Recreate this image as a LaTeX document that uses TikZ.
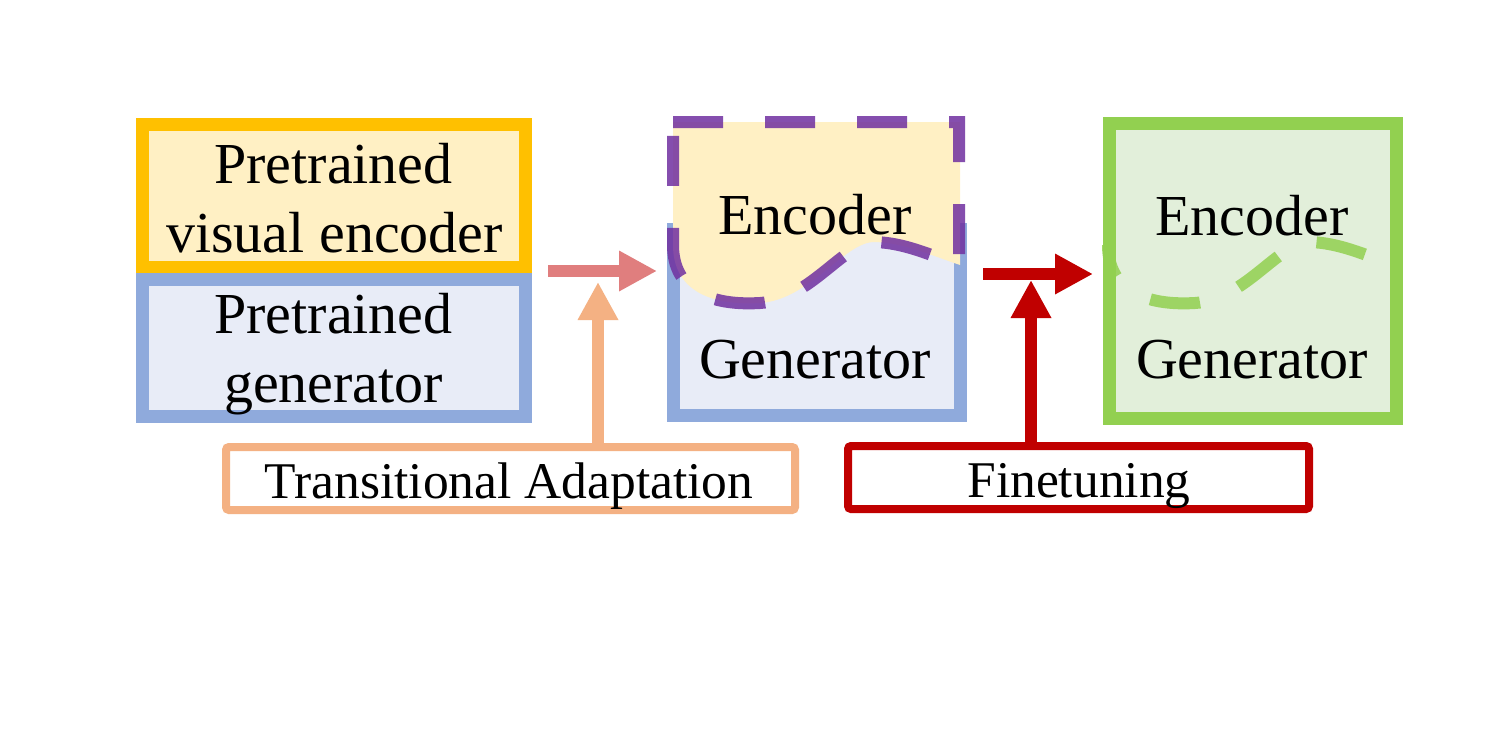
\documentclass[tikz,border=0pt]{standalone}
\usepackage{fontspec}
\setmainfont{Liberation Serif}
\usetikzlibrary{arrows.meta}
\definecolor{gold}{HTML}{FFC000}
\definecolor{goldfill}{HTML}{FFF0C4}
\definecolor{blueline}{HTML}{8FAADC}
\definecolor{bluefill}{HTML}{E8ECF7}
\definecolor{greenline}{HTML}{92D050}
\definecolor{greenfill}{HTML}{E2EFDA}
\definecolor{purp}{HTML}{7030A0}
\definecolor{salmon}{HTML}{E07E7E}
\definecolor{peach}{HTML}{F4B183}
\definecolor{darkred}{HTML}{C00000}
\begin{document}
\begin{tikzpicture}[x=1pt,y=-1pt,
  box/.style={rectangle, inner sep=0pt, outer sep=0pt, line width=13pt},
  lbox/.style={rectangle, inner sep=0pt, outer sep=0pt, line width=8pt, rounded corners=3pt, fill=white,
    minimum height=63pt},
  bigtext/.style={font=\fontsize{58}{69}\selectfont, inner sep=0pt, anchor=base},
  labtext/.style={font=\fontsize{51.5}{60}\selectfont, inner sep=0pt, anchor=base},
  fatarrow/.style={line width=11.5pt, -{Triangle[length=38pt,width=38pt]}},
  wavedash/.style={line width=12pt, dash pattern=on 50pt off 42pt}
]
\useasboundingbox (0,0) rectangle (1500,750);
\fill[white] (0,0) rectangle (1500,750);

% left stacked boxes
\node[box, draw=gold, fill=goldfill, minimum width=383pt, minimum height=142.5pt] (enc) at (333.5,195.75) {};
\node[box, draw=blueline, fill=bluefill, minimum width=383pt, minimum height=137pt] (gen) at (333.5,348) {};
\node[bigtext] (t1) at (333.5,183) {Pretrained};
\node[bigtext] (t2) at (334.5,252) {visual encoder};
\node[bigtext] (t3) at (333.5,333) {Pretrained};
\node[bigtext] (t4) at (333.5,402) {generator};

% middle box
\node[box, draw=blueline, fill=bluefill, minimum width=287pt, minimum height=186pt] (mid) at (817,322.5) {};
\fill[goldfill] (673,122) -- (960,122) -- (960,265)
  .. controls (930,255) and (905,243) .. (875,242)
  .. controls (845,241) and (810,300) .. (760,303)
  .. controls (710,306) and (673,290) .. (673,245) -- cycle;
\draw[wavedash, draw=purp, draw opacity=0.85] (673,122) -- (959,122) -- (959,265)
  .. controls (930,255) and (905,243) .. (875,242)
  .. controls (845,241) and (810,300) .. (760,303)
  .. controls (710,306) and (673,290) .. (673,245) -- cycle;
\node[bigtext] (t5) at (815,234) {Encoder};
\node[bigtext] (t6) at (815,378) {Generator};

% right box
\node[box, fill=greenfill, minimum width=287pt, minimum height=295pt] (right) at (1253,271) {};
\draw[wavedash, dash phase=61pt, draw=greenline, draw opacity=0.85] (1394,265)
  .. controls (1365,255) and (1340,243) .. (1310,242)
  .. controls (1280,241) and (1245,300) .. (1195,303)
  .. controls (1145,306) and (1108,290) .. (1108,245);
\draw[line width=13pt, greenline] (right.north west) rectangle (right.south east);
\node[bigtext] (t7) at (1252,235) {Encoder};
\node[bigtext] (t8) at (1252,378) {Generator};

% label boxes
\node[lbox, draw=peach, minimum width=569pt] (ta) at (510.5,478.5) {};
\node[labtext] (t9) at (509,498) {Transitional Adaptation};
\node[lbox, draw=darkred, minimum width=461pt] (ft) at (1078.5,477.5) {};
\node[labtext] (t10) at (1079,497) {Finetuning};

% arrows
\coordinate (a1s) at (548,271);
\coordinate (a1e) at (657,271);
\coordinate (a2e) at (598,282);
\coordinate (a3s) at (983,274);
\coordinate (a3e) at (1093,274);
\coordinate (a4e) at (1031,280);
\draw[fatarrow, salmon] (a1s) -- (a1e);
\draw[fatarrow, peach] (ta.north -| a2e) -- (a2e);
\draw[fatarrow, darkred] (a3s) -- (a3e);
\draw[fatarrow, darkred] (ft.north -| a4e) -- (a4e);
\end{tikzpicture}
\end{document}
